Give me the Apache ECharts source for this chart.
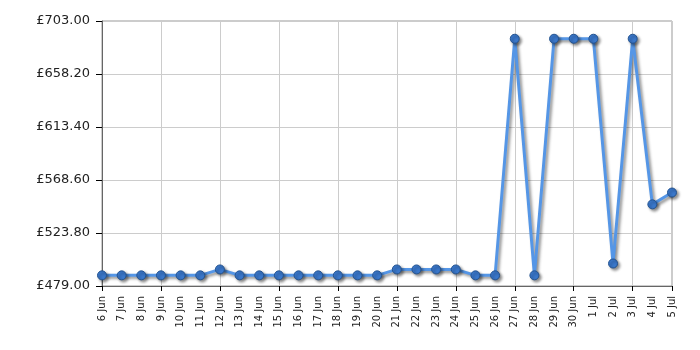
<!DOCTYPE html>
<html><head><meta charset="utf-8">
<script src="https://cdn.jsdelivr.net/npm/echarts@6/dist/echarts.min.js"></script>
<style>html,body{margin:0;padding:0;background:#fff}#c{width:700px;height:350px}</style>
</head><body><div id="c"></div>
<script>
const categories = ['6 Jun','7 Jun','8 Jun','9 Jun','10 Jun','11 Jun','12 Jun','13 Jun','14 Jun','15 Jun','16 Jun','17 Jun','18 Jun','19 Jun','20 Jun','21 Jun','22 Jun','23 Jun','24 Jun','25 Jun','26 Jun','27 Jun','28 Jun','29 Jun','30 Jun','1 Jul','2 Jul','3 Jul','4 Jul','5 Jul'];
const prices = [488,488,488,488,488,488,493,488,488,488,488,488,488,488,488,493,493,493,493,488,488,688,488,688,688,688,498,688,548,558];
const yMin = 479, yMax = 703, yStep = 44.8;

const chart = echarts.init(document.getElementById('c'));
chart.setOption({
  animation: false,
  grid: {left: 102, right: 28, top: 21, bottom: 64, show: true, borderColor: '#999', borderWidth: 1, backgroundColor: 'transparent'},
  xAxis: {
    type: 'category', data: categories, boundaryGap: false,
    axisLine: {lineStyle: {color: '#666'}},
    axisTick: {show: true, interval: 2, length: 5, lineStyle: {color: '#000'}},
    splitLine: {show: true, interval: 2, lineStyle: {color: '#ccc'}},
    axisLabel: {rotate: 90, interval: 0, fontFamily: 'DejaVu Sans', fontSize: 10, color: '#222', margin: 10}
  },
  yAxis: {
    type: 'value', min: yMin, max: yMax, interval: yStep,
    axisLine: {show: true, lineStyle: {color: '#666'}},
    axisTick: {show: true, length: 6, lineStyle: {color: '#000'}},
    splitLine: {lineStyle: {color: '#ccc'}},
    axisLabel: {formatter: v => '£' + v.toFixed(2), fontFamily: 'DejaVu Sans', fontSize: 13, color: '#222', margin: 12}
  },
  series: [{
    type: 'line', data: prices,
    symbol: 'circle', symbolSize: 9,
    lineStyle: {color: '#5596e6', width: 3, shadowColor: 'rgba(0,0,0,0.45)', shadowBlur: 3, shadowOffsetX: 2, shadowOffsetY: 2},
    itemStyle: {color: '#3a78cc', borderColor: '#24538f', borderWidth: 1, shadowColor: 'rgba(0,0,0,0.45)', shadowBlur: 3, shadowOffsetX: 2, shadowOffsetY: 2}
  }]
});
</script></body></html>
